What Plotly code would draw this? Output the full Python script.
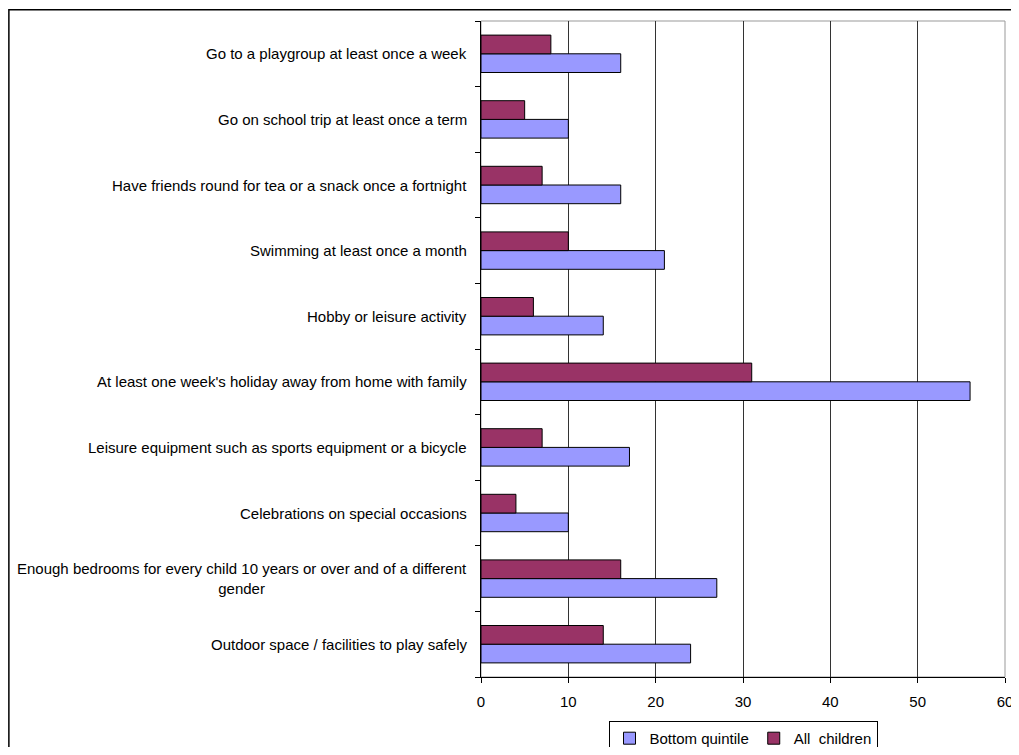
import plotly.graph_objects as go

# categories listed bottom -> top (Excel style)
categories = [
    "Outdoor space / facilities to play safely",
    "Enough bedrooms for every child 10 years or over and of a different<br>gender",
    "Celebrations on special occasions",
    "Leisure equipment such as sports equipment or a bicycle",
    "At least one week's holiday away from home with family",
    "Hobby or leisure activity",
    "Swimming at least once a month",
    "Have friends round for tea or a snack once a fortnight",
    "Go on school trip at least once a term",
    "Go to a playgroup at least once a week",
]
bottom_quintile = [24, 27, 10, 17, 56, 14, 21, 16, 10, 16]
all_children = [14, 16, 4, 7, 31, 6, 10, 7, 5, 8]
x_ticks = [0, 10, 20, 30, 40, 50, 60]

font = dict(family="Liberation Sans, Arial, sans-serif", size=15, color="black")

fig = go.Figure()
fig.add_trace(go.Bar(
    y=categories, x=bottom_quintile, orientation='h',
    name='Bottom quintile',
    marker=dict(color='#9999FF', line=dict(color='black', width=1)),
))
fig.add_trace(go.Bar(
    y=categories, x=all_children, orientation='h',
    name='All  children',
    marker=dict(color='#993366', line=dict(color='black', width=1)),
))

# category labels as annotations so the two-line one is centred like Excel
for c in categories:
    fig.add_annotation(
        x=0, xref='paper', xshift=-12, y=c, yref='y',
        text=c, showarrow=False, xanchor='right', align='center',
        font=font,
    )

fig.update_layout(
    barmode='group',
    bargap=0.43,
    bargroupgap=0,
    width=1011, height=739,
    margin=dict(l=473, r=14, t=13, b=70, autoexpand=False),
    paper_bgcolor='white',
    plot_bgcolor='white',
    font=font,
    showlegend=True,
    legend=dict(
        orientation='h', x=0.5, xanchor='center', y=-0.067, yanchor='top',
        bordercolor='black', borderwidth=1, font=font,
        traceorder='normal', itemwidth=30,
    ),
    xaxis=dict(
        range=[0, 60], tickvals=x_ticks, showgrid=True,
        gridcolor='#333333', gridwidth=1,
        showline=True, linecolor='black', linewidth=1,
        ticks='outside', ticklen=5, tickcolor='black',
        ticklabelstandoff=6,
        zeroline=False, tickfont=font,
    ),
    yaxis=dict(
        categoryorder='array', categoryarray=categories,
        showticklabels=False, showgrid=False,
        showline=True, linecolor='black', linewidth=1,
        ticks='outside', ticklen=5, tickcolor='black',
        tickson='boundaries',
    ),
    shapes=[
        # grey frame round the plot area
        dict(type='rect', xref='paper', yref='paper', x0=0, x1=1, y0=0, y1=1,
             line=dict(color='#999999', width=1), layer='below'),
        # outer chart border
        dict(type='rect', xref='paper', yref='paper', x0=-0.901, x1=1.06,
             y0=-0.16, y1=1.017, line=dict(color='black', width=1.5)),
    ],
)

fig.write_html("out.html")
